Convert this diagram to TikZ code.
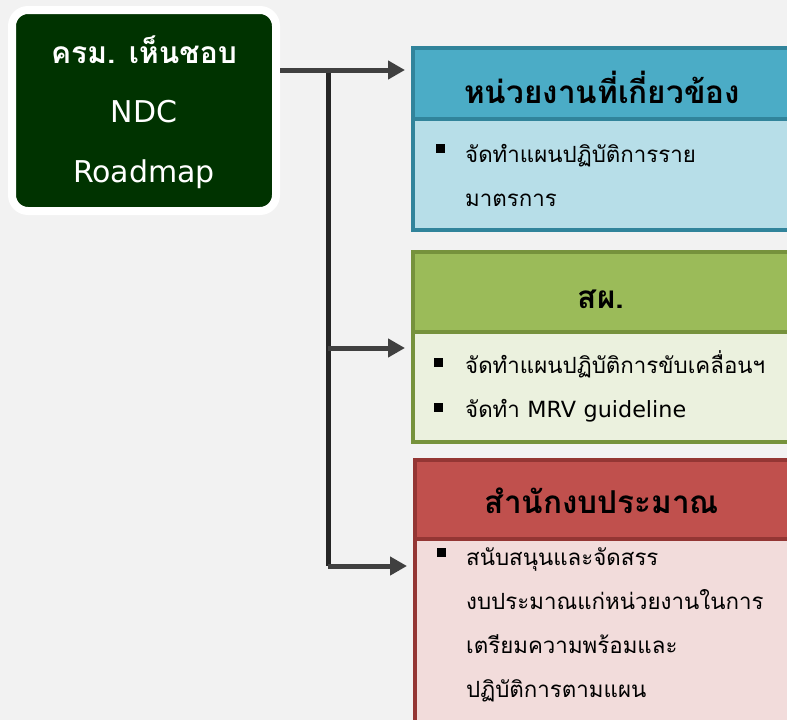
\documentclass[tikz,border=0pt]{standalone}
\usepackage{fontspec}
\setmainfont[Script=Thai]{Loma}
\newfontfamily\latinfont{DejaVu Sans}
\usetikzlibrary{arrows.meta}
\tikzset{>={Triangle[length=17pt,width=18pt]}}
\definecolor{bgcol}{HTML}{F2F2F2}
\definecolor{rootcol}{HTML}{003300}
\definecolor{arrowcol}{HTML}{404040}
\definecolor{spinecol}{HTML}{262626}
\definecolor{tealhead}{HTML}{4BACC6}
\definecolor{tealline}{HTML}{31849B}
\definecolor{tealbody}{HTML}{B7DEE8}
\definecolor{olivehead}{HTML}{9BBB59}
\definecolor{oliveline}{HTML}{76923C}
\definecolor{olivebody}{HTML}{EBF1DE}
\definecolor{redhead}{HTML}{C0504D}
\definecolor{redline}{HTML}{943634}
\definecolor{redbody}{HTML}{F2DCDB}

\begin{document}
\begin{tikzpicture}[x=1pt,y=-1pt]
      \tikzstyle{panel}=[line width=4pt,anchor=north west,minimum width=384pt,inner sep=0pt];
      \tikzstyle{headtext}=[anchor=base,font=\bfseries\fontsize{31.5}{36}\selectfont];
      \tikzstyle{bodytext}=[anchor=base west,align=left,text width=330pt,inner sep=0pt,
                            font=\fontsize{22.3}{44}\selectfont];
      \tikzstyle{bullet}=[fill=black,minimum size=9pt,inner sep=0pt];
      \tikzstyle{link}=[arrowcol,line width=5pt,shorten >=6pt];
      \fill[bgcol] (0,0) rectangle (787,720);
      \useasboundingbox (0,0) rectangle (787,720);

      % the decision box
      \node[draw=white,fill=rootcol,line width=8pt,rounded corners=16pt,minimum width=264pt,
            minimum height=201pt,inner sep=0pt] (root) at (144,110.5) {};
      \node[white,anchor=base,align=center,font=\fontsize{30}{59.5}\selectfont]
            (roottext) at (144,182) {\bfseries ครม. เห็นชอบ\\{\latinfont NDC}\\{\latinfont Roadmap}};

      % agencies
      \node[panel,draw=tealline,fill=tealbody,minimum height=111pt] (tealbox) at (411,117) {};
      \node[panel,draw=tealline,fill=tealhead,minimum height=71pt] (tealtop) at (411,46) {};
      \node[headtext] (tealtitle) at (602,103) {หน่วยงานที่เกี่ยวข้อง};
      \node[bullet] (tb1) at (440,148) {};
      \node[bodytext] (tealtext) at (465,162) {จัดทำแผนปฏิบัติการราย\\มาตรการ};

      \node[panel,draw=oliveline,fill=olivebody,minimum height=110pt] (olivebox) at (411,330) {};
      \node[panel,draw=oliveline,fill=olivehead,minimum height=80pt] (olivetop) at (411,250) {};
      \node[headtext] (olivetitle) at (601,308) {สผ.};
      \node[bullet] (ob1) at (438,362) {};
      \node[bullet] (ob2) at (438,407) {};
      \node[bodytext] (olivetext) at (465,373) {จัดทำแผนปฏิบัติการขับเคลื่อนฯ\\จัดทำ {\latinfont MRV guideline}};

      \node[panel,draw=redline,fill=redbody,minimum height=190pt] (redbox) at (413,537) {};
      \node[panel,draw=redline,fill=redhead,minimum height=79pt] (redtop) at (413,458) {};
      \node[headtext] (redtitle) at (602,513) {สำนักงบประมาณ};
      \node[bullet] (rb1) at (441,552) {};
      \node[bodytext] (redtext) at (466,565) {สนับสนุนและจัดสรร\\งบประมาณแก่หน่วยงานในการ\\เตรียมความพร้อมและ\\ปฏิบัติการตามแผน};

      % connectors
      \coordinate (j1) at (328,70);
      \coordinate (j2) at (328,348);
      \coordinate (j3) at (328,566);
      \draw[spinecol,line width=5pt] (328,73) -- (j3);
      \draw[link,->] (root.east |- j1) -- (tealtop.west |- j1);
      \draw[link,->] (j2) -- (olivebox.west |- j2);
      \draw[link,->] (j3) -- (redbox.west |- j3);
    \end{tikzpicture}
\end{document}
